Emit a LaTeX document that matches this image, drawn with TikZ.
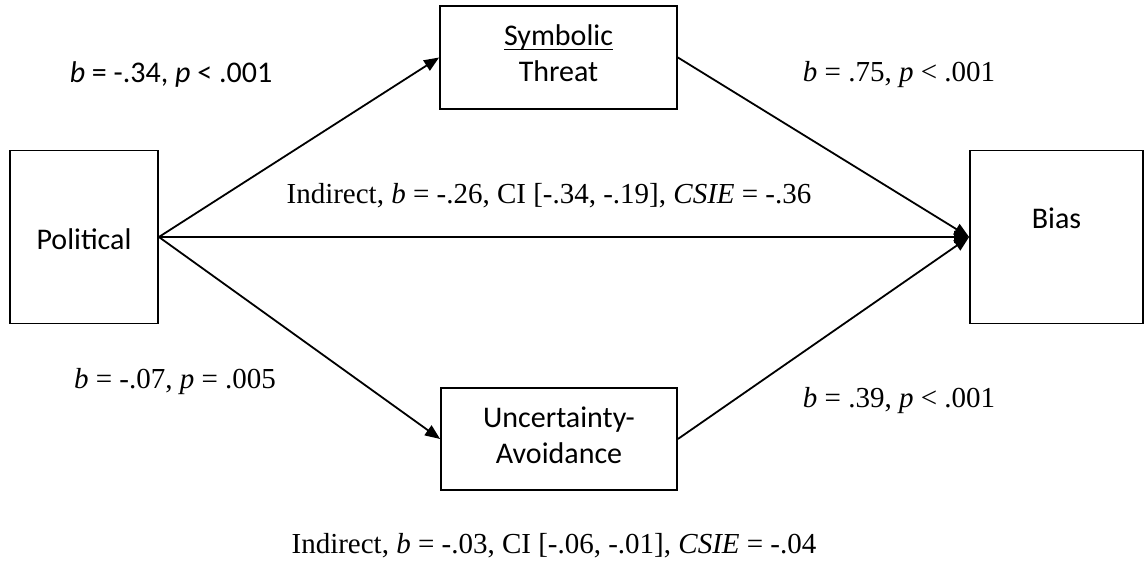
\documentclass[tikz,border=0pt]{standalone}
\usepackage{fontspec}
\setmainfont{Liberation Serif}
\newfontfamily\calibri{Carlito}
\usetikzlibrary{arrows.meta,positioning}
\newcommand\ulword[1]{\setbox0\hbox{#1}\rlap{\rule[-2.2pt]{\wd0}{0.8pt}}\box0}

\begin{document}
\begin{tikzpicture}[x=0.5pt,y=-0.5pt,
    box/.style={draw,rectangle,line width=0.9pt,align=center,inner sep=0pt,
      font=\calibri\fontsize{15}{18}\selectfont},
    effect/.style={line width=0.9pt,-{Triangle[length=7.5pt,width=6pt]}},
    est/.style={inner sep=1pt,font=\fontsize{14.5}{17}\selectfont}]
      \useasboundingbox (0,0) rectangle (1145,565);
      % boxes
      \node[box,minimum width=74pt,minimum height=86.5pt,text height=13pt] (pol) at (84,237) {Political};
      \node[box,minimum width=86.5pt,minimum height=86.5pt,text depth=19pt] (bias) at (1056.5,237) {Bias};
      \node[box,minimum width=118.5pt,minimum height=51.5pt,text depth=4pt] (sym) at (558.5,57.5) {\ulword{Symbolic}\\Threat};
      \node[box,minimum width=118pt,minimum height=51pt,text depth=3.5pt] (unc) at (559,439) {Uncertainty-\\Avoidance};
      % paths
      \draw[effect] (pol.east) -- (sym.west);
      \draw[effect] (pol.east) -- (unc.west);
      \draw[effect] (pol.east) -- (bias.west);
      \draw[effect] (sym.east) -- (bias.west);
      \draw[effect] (unc.east) -- (bias.west);
      % estimates
      \node[est,font=\calibri\fontsize{15}{17}\selectfont] (a1) at (171,75) {\textit{b} = -.34, \textit{p} < .001};
      \node[est] (b1) at (899,75) {\textit{b} = .75, \textit{p} < .001};
      \node[est] (a2) at (175,382) {\textit{b} = -.07, \textit{p} = .005};
      \node[est] (b2) at (899,401) {\textit{b} = .39, \textit{p} < .001};
      \node[est] (ind1) at (549,196) {Indirect, \textit{b} = -.26, CI [-.34, -.19], \textit{CSIE} = -.36};
      \node[est] (ind2) at (554,546) {Indirect, \textit{b} = -.03, CI [-.06, -.01], \textit{CSIE} = -.04};
\end{tikzpicture}
\end{document}
